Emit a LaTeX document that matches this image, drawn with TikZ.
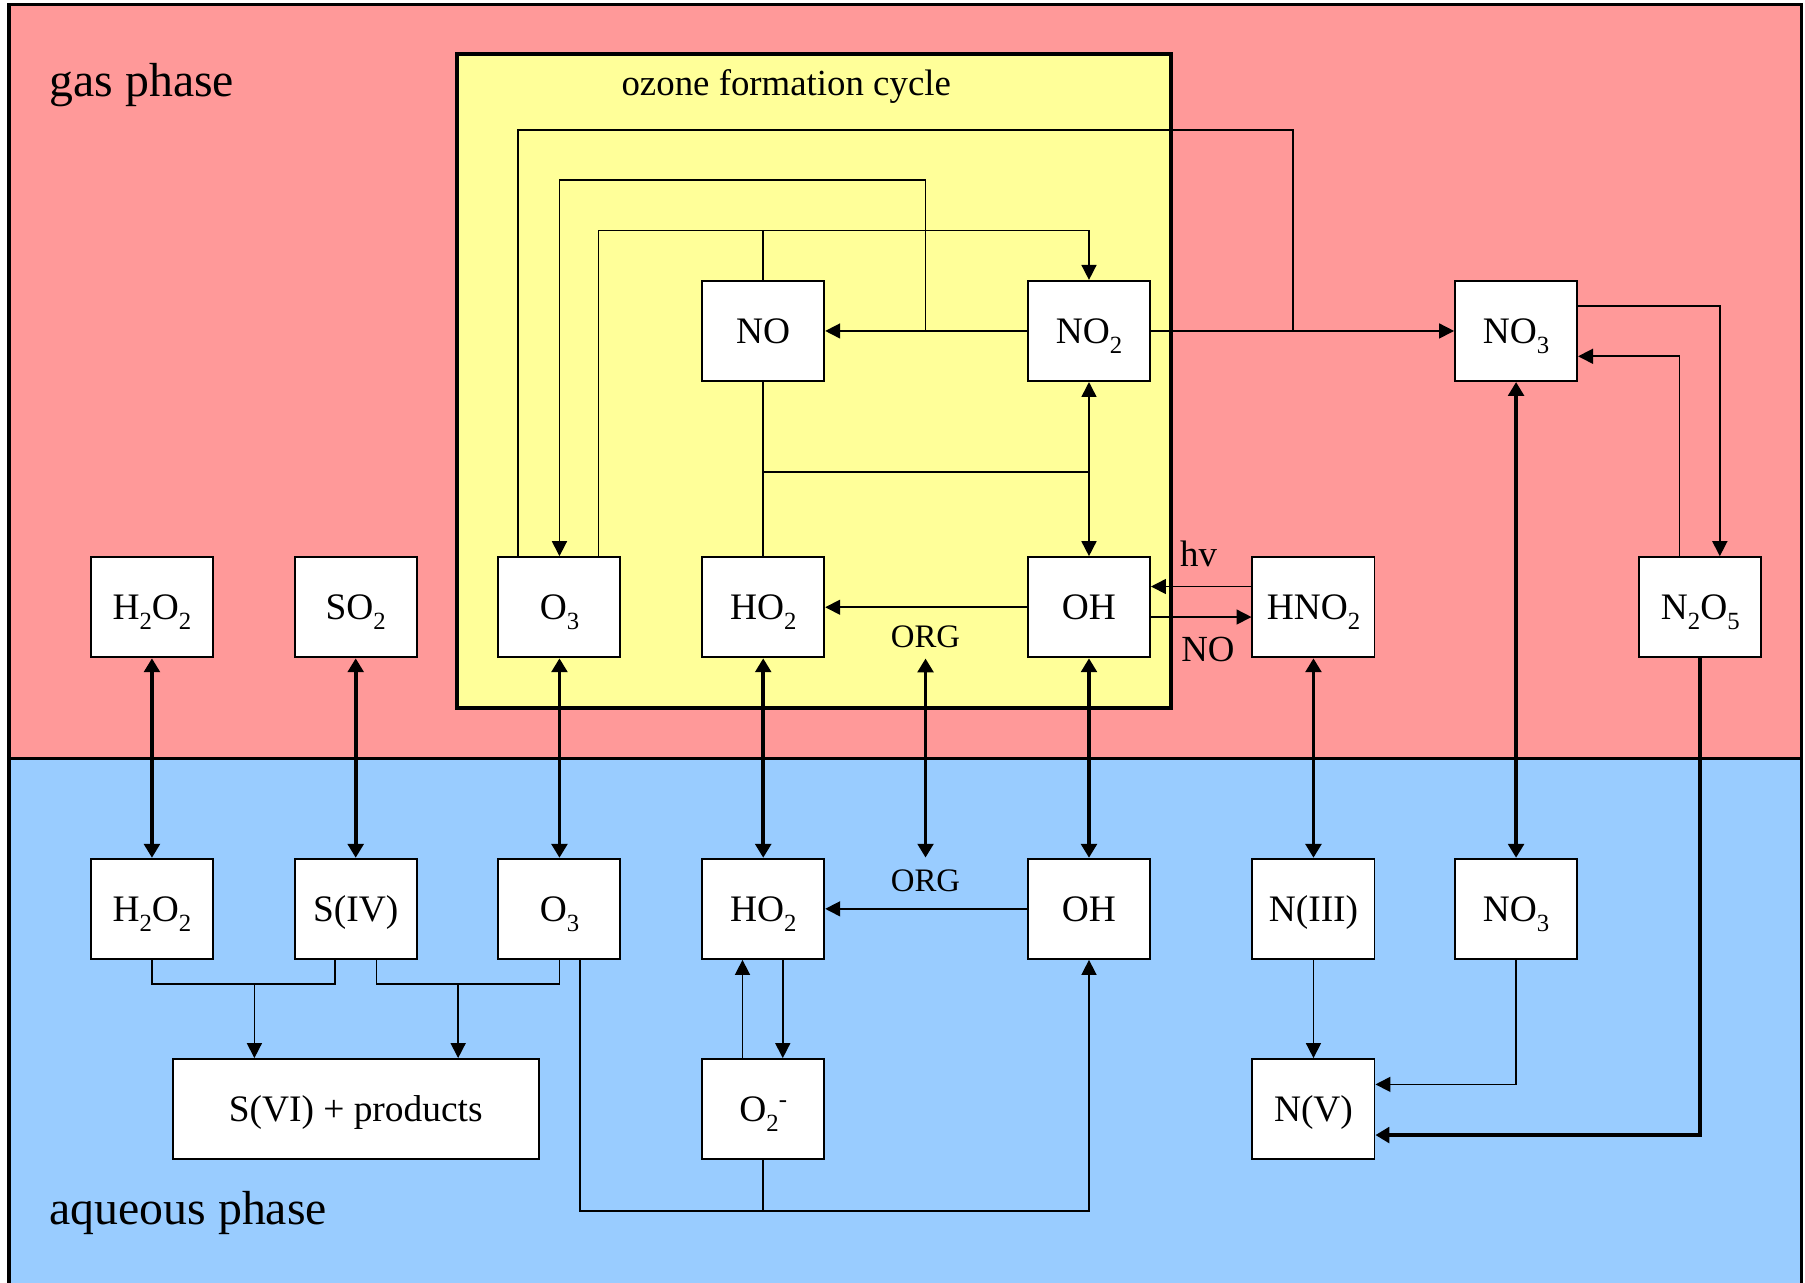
\documentclass[tikz,border=0pt]{standalone}
\usepackage{fontspec}
\setmainfont{Liberation Serif}
\usetikzlibrary{arrows.meta,calc}
\definecolor{gaspink}{RGB}{255,153,153}
\definecolor{aqblue}{RGB}{153,204,255}
\definecolor{ozyellow}{RGB}{255,255,153}
\newcommand\sbs[1]{\raisebox{-9pt}{\fontsize{21.5}{21.5}\selectfont #1}}
\newcommand\sps[1]{\raisebox{12.5pt}{\fontsize{21.5}{21.5}\selectfont #1}}
\begin{document}
\begin{tikzpicture}[x=1pt,y=-1pt,
  box/.style={draw, line width=1.7pt, fill=white, minimum width=106pt, minimum height=87pt,
    inner sep=0pt, font=\fontsize{32.5}{38}\selectfont, text height=21.5pt, text depth=0pt},
  ln/.style={line width=1.4pt},
  arr/.style={line width=1.4pt, -{Triangle[length=13pt,width=13pt]}},
  dbl/.style={line width=3.3pt, {Triangle[length=12pt,width=13.5pt]}-{Triangle[length=12pt,width=13.5pt]}},
  tarr/.style={line width=3.3pt, -{Triangle[length=12pt,width=13.5pt]}},
  lbl/.style={inner sep=0pt, font=\fontsize{32}{38}\selectfont},
  orgl/.style={inner sep=0pt, font=\fontsize{28.5}{32}\selectfont},
  phase/.style={inner sep=0pt, anchor=base west, font=\fontsize{41.5}{48}\selectfont},
  frame/.style={line width=3.2pt}
]
\useasboundingbox (0,0) rectangle (1568,1114);
\clip (0,0) rectangle (1568,1114);
% backgrounds
\fill[gaspink] (8,4) rectangle (1565,659);
\fill[aqblue] (8,659) rectangle (1565,1125);
\draw[frame] (8,1125) -- (8,4) -- (1565,4) -- (1565,1125);
\draw[frame] (8,659) -- (1565,659);
\draw[frame, fill=ozyellow] (397,47) rectangle (1017,615);
% texts
\node[phase] (gas) at (43,84) {gas phase};
\node[phase] (aqu) at (43,1064) {aqueous phase};
\node[lbl, anchor=base] (ozt) at (683,83) {ozone formation cycle};
% gas phase boxes
\node[box] (no) at (663,287.5) {NO};
\node[box] (no2) at (946,287.5) {NO\sbs{2}};
\node[box] (no3g) at (1317,287.5) {NO\sbs{3}};
\node[box] (h2o2g) at (132,527.5) {H\sbs{2}O\sbs{2}};
\node[box] (so2) at (309,527.5) {SO\sbs{2}};
\node[box] (o3g) at (486,527.5) {O\sbs{3}};
\node[box] (ho2g) at (663,527.5) {HO\sbs{2}};
\node[box] (ohg) at (946,527.5) {OH};
\node[box] (hno2) at (1141,527.5) {HNO\sbs{2}};
\node[box] (n2o5) at (1477,527.5) {N\sbs{2}O\sbs{5}};
% aqueous boxes
\node[box] (h2o2a) at (132,789.5) {H\sbs{2}O\sbs{2}};
\node[box] (s4) at (309,789.5) {S(IV)};
\node[box] (o3a) at (486,789.5) {O\sbs{3}};
\node[box] (ho2a) at (663,789.5) {HO\sbs{2}};
\node[box] (oha) at (946,789.5) {OH};
\node[box] (n3) at (1141,789.5) {N(III)};
\node[box] (no3a) at (1317,789.5) {NO\sbs{3}};
\node[box, minimum width=318pt] (s6) at (309,963.5) {S(VI) + products};
\node[box] (o2m) at (663,963.5) {O\sbs{2}\sps{-}};
\node[box] (n5) at (1141,963.5) {N(V)};
% labels
\node[lbl, anchor=base west] (hvl) at (1025,492) {hv};
\node[lbl, anchor=base west] (nol) at (1026,575) {NO};
\node[orgl, anchor=base] (orgg) at (804,562.6) {ORG};
\node[orgl, anchor=base] (orga) at (804,774.6) {ORG};
% junctions
\coordinate (jA) at (1123,287.5);
\coordinate (jB) at (804,287.5);
\coordinate (jC) at (663,410);
\coordinate (jD) at (946,410);
\coordinate (jE) at (221,855);
\coordinate (jF) at (398,855);
\coordinate (orgT) at (804,572);
\coordinate (orgB) at (804,745);
% ozone cycle connectors
\draw[ln] ($(o3g.north)+(-36,0)$) |- (1123,113) -- (jA);
\draw[arr] (no2.east) -- (no3g.west);
\draw[arr] (no2.west) -- (no.east);
\draw[arr] (jB) |- ($(o3g.north)+(0,-327)$) -- (o3g.north);
\draw[arr] ($(o3g.north)+(34,0)$) |- ($(no2.north)+(0,-43)$) -- (no2.north);
\draw[ln] (no.north) -- ++(0,-43);
\draw[ln] (no.south) -- (ho2g.north);
\draw[ln] (jC) -- (jD);
\draw[arr] (jD) -- (no2.south);
\draw[arr] (jD) -- (ohg.north);
\draw[arr] (ohg.west) -- (ho2g.east);
\draw[arr] ($(hno2.west)+(0,-18)$) -- ($(ohg.east)+(0,-18)$);
\draw[arr] ($(ohg.east)+(0,8.5)$) -- ($(hno2.west)+(0,8.5)$);
\draw[arr] ($(no3g.east)+(0,-21.5)$) -| ($(n2o5.north)+(17,0)$);
\draw[arr] ($(n2o5.north)+(-18,0)$) |- ($(no3g.east)+(0,22)$);
% phase transfer
\draw[dbl] (h2o2g.south) -- (h2o2a.north);
\draw[dbl] (so2.south) -- (s4.north);
\draw[dbl] (o3g.south) -- (o3a.north);
\draw[dbl] (ho2g.south) -- (ho2a.north);
\draw[dbl] (orgT) -- (orgB);
\draw[dbl] (ohg.south) -- (oha.north);
\draw[dbl] (hno2.south) -- (n3.north);
\draw[dbl] (no3g.south) -- (no3a.north);
\draw[tarr] (n2o5.south) |- ($(n5.east)+(0,22.5)$);
% aqueous connectors
\draw[arr] (oha.west) -- (ho2a.east);
\draw[arr] ($(ho2a.south)+(17,0)$) -- ($(o2m.north)+(17,0)$);
\draw[arr] ($(o2m.north)+(-18,0)$) -- ($(ho2a.south)+(-18,0)$);
\draw[arr] ($(o3a.south)+(18,0)$) |- ($(oha.south)+(0,218)$) -- (oha.south);
\draw[ln] (o2m.south) -- ++(0,44);
\draw[ln] (h2o2a.south) |- (jE) -| ($(s4.south)+(-18,0)$);
\draw[arr] (jE) -- (jE |- s6.north);
\draw[ln] ($(s4.south)+(18,0)$) |- (jF) -| (o3a.south);
\draw[arr] (jF) -- (jF |- s6.north);
\draw[arr] (n3.south) -- (n5.north);
\draw[arr] (no3a.south) |- ($(n5.east)+(0,-21.5)$);
\end{tikzpicture}
\end{document}
